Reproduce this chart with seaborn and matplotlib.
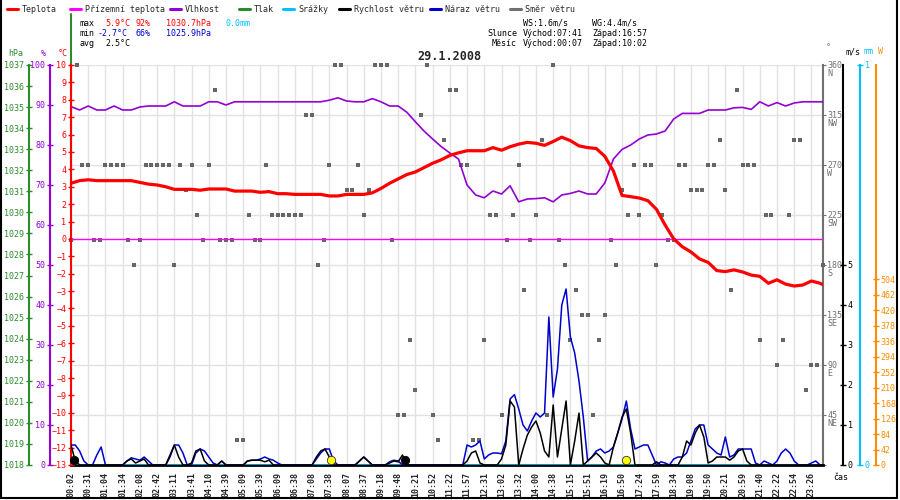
import numpy as np
import matplotlib
matplotlib.use("Agg")
import matplotlib.pyplot as plt
from matplotlib.lines import Line2D
import seaborn as sns

# time axis (labels are evenly spaced, one per sample block)
time_labels = ["00:02", "00:31", "01:04", "01:34", "02:08", "02:42", "03:11", "03:41", "04:10", "04:39",
               "05:09", "05:39", "06:09", "06:38", "07:08", "07:38", "08:07", "08:37", "09:18", "09:48",
               "10:21", "10:52", "11:22", "11:57", "12:31", "13:02", "13:32", "14:00", "14:38", "15:15",
               "15:51", "16:19", "16:50", "17:24", "17:59", "18:34", "19:08", "19:50", "20:21", "20:59",
               "21:40", "22:22", "22:54", "23:26"]

# temperature (°C), two samples per label
temperature = [3.2, 3.35, 3.4, 3.35, 3.35, 3.35, 3.35, 3.35, 3.25, 3.15,
               3.1, 3.0, 2.85, 2.85, 2.85, 2.8, 2.87, 2.87, 2.87, 2.75,
               2.75, 2.75, 2.68, 2.72, 2.6, 2.6, 2.56, 2.56, 2.56, 2.56,
               2.47, 2.47, 2.56, 2.56, 2.56, 2.65, 2.9, 3.2, 3.45, 3.7,
               3.85, 4.1, 4.35, 4.55, 4.8, 4.95, 5.07, 5.07, 5.07, 5.25,
               5.1, 5.3, 5.45, 5.55, 5.5, 5.38, 5.6, 5.85, 5.65, 5.35,
               5.25, 5.2, 4.75, 3.9, 2.5, 2.43, 2.35, 2.2, 1.7, 0.8,
               0.0, -0.45, -0.75, -1.15, -1.35, -1.82, -1.88, -1.78, -1.9, -2.08,
               -2.15, -2.55, -2.35, -2.6, -2.71, -2.65, -2.42, -2.55, -2.8]

# relative humidity (%), two samples per label
humidity = [89.6, 88.75, 89.75, 88.75, 88.75, 89.75, 88.75, 88.75, 89.5, 89.75,
            89.75, 89.75, 90.8, 89.75, 89.75, 89.75, 90.8, 90.8, 90.0, 90.8,
            90.8, 90.8, 90.8, 90.8, 90.8, 90.8, 90.8, 90.8, 90.8, 90.8,
            91.2, 91.8, 91.0, 90.8, 90.8, 91.6, 90.8, 89.75, 89.75, 88.2,
            85.8, 83.5, 81.5, 79.6, 78.0, 76.5, 70.0, 67.5, 66.8, 68.5,
            67.75, 69.8, 65.8, 66.5, 66.6, 66.8, 65.8, 67.5, 67.9, 68.5,
            67.75, 67.75, 70.5, 76.5, 78.9, 80.0, 81.5, 82.5, 82.75, 83.5,
            86.5, 87.9, 87.9, 87.9, 88.75, 88.75, 88.75, 89.3, 89.4, 88.9,
            90.8, 89.75, 90.6, 89.75, 90.5, 90.8, 90.8, 90.8, 90.8]

# wind gust and wind speed (m/s), four samples per label
wind_gust = [0.5, 0.5, 0.35, 0.1,  0, 0, 0.25, 0.45,  0, 0, 0, 0,  0, 0.1, 0.18, 0.15,
             0.12, 0.2, 0.1, 0,  0, 0, 0, 0.2,  0.5, 0.5, 0.3, 0,  0, 0.3, 0.4, 0.35,
             0.2, 0.05, 0, 0.1,  0, 0, 0, 0,  0, 0.1, 0.12, 0.12,  0.15, 0.2, 0.15, 0.12,
             0.05, 0, 0, 0,  0, 0, 0, 0,  0, 0.15, 0.3, 0.4,  0.4, 0.1, 0, 0,
             0, 0, 0, 0.1,  0.2, 0.1, 0, 0,  0, 0, 0.08, 0.12,  0.1, 0, 0, 0,
             0, 0, 0, 0,  0, 0, 0, 0,  0, 0, 0, 0,  0.5, 0.45, 0.5, 0.6,
             0.15, 0.25, 0.3, 0.3,  0.28, 0.6, 1.65, 1.76,  1.4, 1.0, 0.85, 1.1,  1.3, 1.2, 1.3, 3.7,
             1.7, 2.4, 4.0, 4.4,  3.2, 2.8, 2.1, 1.2,  0.1, 0.2, 0.35, 0.4,  0.3, 0.35, 0.45, 0.8,
             1.15, 1.6, 0.9, 0.4,  0.45, 0.5, 0.5, 0.25,  0, 0.08, 0.05, 0,  0.15, 0.2, 0.2, 0.3,
             0.6, 0.9, 1.0, 1.0,  0.5, 0.4, 0.3, 0.25,  0.7, 0.2, 0.25, 0.4,  0.4, 0.4, 0.4, 0.05,
             0, 0.1, 0.05, 0,  0.1, 0.3, 0.4, 0.3,  0.1, 0, 0, 0,  0.05, 0.1, 0, 0]

wind_speed = [0.5, 0.1, 0, 0,  0, 0, 0, 0,  0, 0, 0, 0,  0, 0.1, 0.15, 0.05,
              0.1, 0.15, 0, 0,  0, 0, 0, 0.25,  0.5, 0.2, 0, 0,  0.05, 0.35, 0.4, 0.1,
              0, 0, 0, 0.1,  0, 0, 0, 0,  0, 0.1, 0.12, 0.12,  0.12, 0.08, 0.12, 0,
              0, 0, 0, 0,  0, 0, 0, 0,  0, 0.2, 0.35, 0.4,  0.2, 0, 0, 0,
              0, 0, 0, 0.1,  0.2, 0.1, 0, 0,  0, 0, 0.05, 0.1,  0.08, 0.25, 0, 0,
              0, 0, 0, 0,  0, 0, 0, 0,  0, 0, 0, 0,  0.1, 0.3, 0.35, 0.05,
              0, 0, 0, 0,  0.15, 0.5, 1.6, 1.45,  0, 0.4, 0.75, 0.95,  1.1, 0.8, 0.35, 0.2,
              1.5, 0.2, 0.9, 1.6,  0, 0.6, 1.3, 0,  0.1, 0.2, 0.3, 0.2,  0.05, 0, 0.45, 0.8,
              1.2, 1.4, 0.8, 0,  0, 0, 0, 0,  0.08, 0, 0, 0,  0, 0, 0.2, 0.6,
              0.5, 0.8, 1.0, 0.7,  0.05, 0.1, 0.2, 0.2,  0.2, 0.12, 0.2, 0.35,  0.4, 0.1, 0, 0,
              0, 0, 0, 0,  0, 0, 0, 0,  0, 0, 0, 0,  0, 0, 0, 0]

# wind direction (deg), three samples per label
wind_dir = [202.5, 360, 270,  270, 202.5, 202.5,  270, 270, 270,  270, 202.5, 180,
            202.5, 270, 270,  270, 270, 270,  180, 270, 247.5,  270, 225, 202.5,
            270, 337.5, 202.5,  202.5, 202.5, 22.5,  22.5, 225, 202.5,  202.5, 270, 225,
            225, 225, 225,  225, 225, 315,  315, 180, 202.5,  270, 360, 360,
            247.5, 247.5, 270,  225, 247.5, 360,  360, 360, 202.5,  45, 45, 112.5,
            67.5, 315, 360,  45, 22.5, 292.5,  337.5, 337.5, 270,  270, 22.5, 22.5,
            112.5, 225, 225,  45, 202.5, 225,  270, 157.5, 202.5,  225, 292.5, 45,
            360, 202.5, 180,  112.5, 157.5, 135,  135, 45, 112.5,  135, 202.5, 180,
            247.5, 225, 270,  225, 270, 270,  180, 225, 202.5,  202.5, 270, 270,
            247.5, 247.5, 247.5,  270, 270, 292.5,  247.5, 157.5, 337.5,  270, 270, 270,
            112.5, 225, 225,  90, 112.5, 225,  292.5, 292.5, 67.5,  90, 90, 180]

ground_temp = 0.0          # Přízemní teplota (flat)
precip_total = 0.0         # Srážky
pressure_start = [1039.4, 1030.2]

events = ["00:07", "07:41", "10:02", "16:57"]      # moon rise, sun rise, moon set, sun set
event_colors = ["black", "yellow", "black", "yellow"]

legend_names = ["Teplota", "Přízemní teplota", "Vlhkost", "Tlak", "Srážky",
                "Rychlost větru", "Náraz větru", "Směr větru"]
compass = ["NE", "E", "SE", "S", "SW", "W", "NW", "N"]

RED, MAG, PUR, GRN = "#ff0000", "#ff00ff", "#9400d3", "#2a8c2a"
CYA, BLU, GRY, ORA = "#00bfff", "#0000cc", "#707070", "#ff8c00"
legend_colors = [RED, MAG, PUR, GRN, CYA, "black", BLU, GRY]

sns.set_style("white")
plt.rcParams['font.family'] = ['DejaVu Sans Mono']
plt.rcParams['font.size'] = 6

W, H = 900, 500
def fx(x): return x / W
def fy(y): return 1 - y / H

PL, PR, PT, PB = 71, 823, 65, 465
fig = plt.figure(figsize=(9, 5), dpi=100)
ax = fig.add_axes([fx(PL), fy(PB), (PR - PL) / W, (PB - PT) / H])

t_half = np.arange(len(temperature)) * 0.5
t_quarter = np.arange(len(wind_gust)) * 0.25
t_third = np.arange(len(wind_dir)) / 3.0
tick_pos = np.arange(len(time_labels))
XMAX = 43.67


def to_min(s):
    h, m = s.split(":")
    return int(h) * 60 + int(m)


def twin(color, lim, ticks, side, pos, labels=None):
    t = ax.twinx()
    t.set_ylim(lim)
    for s in t.spines.values():
        s.set_visible(False)
    sp = t.spines[side]
    sp.set_visible(True)
    sp.set_color(color)
    sp.set_linewidth(1.5)
    sp.set_position(('axes', pos))
    if side == 'left':
        t.yaxis.set_ticks_position('left')
        t.yaxis.set_label_position('left')
    else:
        t.yaxis.set_ticks_position('right')
    t.set_yticks(ticks)
    if labels is not None:
        t.set_yticklabels(labels)
    t.tick_params(axis='y', colors=color, direction='inout', length=5, width=1, pad=1, labelsize=6)
    t.set_xlim(0, XMAX)
    return t


# base axis: wind direction + grid
ax.set_xlim(0, XMAX)
ax.set_ylim(0, 360)
ax.set_facecolor("white")
sns.scatterplot(x=t_third, y=wind_dir, ax=ax, marker='s', s=10, color="#666666", linewidth=0, zorder=3)
ax.collections[-1].set_clip_on(False)

hpa = twin(GRN, (1018, 1037), range(1018, 1038), 'left', -42 / (PR - PL))
hum = twin(PUR, (0, 100), range(0, 101, 10), 'left', -21 / (PR - PL))
tmp = twin(RED, (-13, 10), range(-13, 11), 'left', 0.0)
mm = twin(CYA, (0, 1), [0, 1], 'right', (860 - PL) / (PR - PL))
wnd = twin("black", (0, 10), range(0, 6), 'right', (843 - PL) / (PR - PL))
sol = twin(ORA, (0, 1084), range(0, 505, 42), 'right', (876 - PL) / (PR - PL))

ax.set_xticks(tick_pos)
ax.set_xticklabels(time_labels, rotation=90, fontweight='bold', fontsize=6)
ax.tick_params(axis='x', length=0, pad=5)
ax.set_yticks(range(0, 361, 45))
ax.set_yticklabels([""] + [str(d) for d in range(45, 361, 45)])
ax.yaxis.set_ticks_position('right')
ax.tick_params(axis='y', colors=GRY, direction='out', length=2, pad=1, labelsize=6)
ax.grid(True, color="#e2e2e2", lw=1)
for s in ['left', 'top']:
    ax.spines[s].set_visible(False)
ax.spines['right'].set_color(GRY)
ax.spines['right'].set_linewidth(1.5)
ax.spines['bottom'].set_color("black")
ax.spines['bottom'].set_linewidth(2)
for deg, name in zip(range(45, 361, 45), compass):
    ax.annotate(name, xy=(1, deg), xycoords=ax.get_yaxis_transform(), xytext=(3, -3),
                textcoords='offset points', va='top', ha='left', color=GRY, fontsize=6,
                annotation_clip=False)

# pressure (only the first point is present)
sns.lineplot(x=[0, 0], y=pressure_start, ax=hpa, color=GRN, lw=1.5, estimator=None, sort=False)
hpa.lines[-1].set_clip_on(False)

# humidity
sns.lineplot(x=t_half, y=humidity, ax=hum, color=PUR, lw=1.2)

# temperatures
tmp.axhline(ground_temp, color=MAG, lw=1)
sns.lineplot(x=t_half, y=temperature, ax=tmp, color=RED, lw=2.3)

# precipitation
mm.axhline(precip_total, color=CYA, lw=1.8)

# wind
sns.lineplot(x=t_quarter, y=wind_gust, ax=wnd, color=BLU, lw=1.1)
sns.lineplot(x=t_quarter, y=wind_speed, ax=wnd, color="black", lw=1.1)
tick_min = [to_min(s) for s in time_labels]
ev_x = np.interp([to_min(e) for e in events], tick_min, tick_pos)
for xe, c in zip(ev_x, event_colors):
    wnd.plot(xe, 0.13, marker='o', ms=6, color=c, mec="#333333" if c == "yellow" else "black",
             mew=0.6, clip_on=False, zorder=5)

# header legend
line_x = [7, 70, 170, 239, 283, 339, 430, 510]
for lx, name, c in zip(line_x, legend_names, legend_colors):
    fig.add_artist(Line2D([fx(lx), fx(lx + 11)], [fy(9), fy(9)], transform=fig.transFigure, color=c, lw=2.2))
    fig.text(fx(lx + 15), fy(9), name, va='center', ha='left', fontsize=6)

# summary text
def put(x, y, s, c="black", ha='left'):
    fig.text(fx(x), fy(y), s, va='center', ha=ha, color=c, fontsize=6)

put(80, 23, "max"); put(105, 23, "5.9°C", RED); put(136, 23, "92%", RED)
put(166, 23, "1030.7hPa", RED); put(226, 23, "0.0mm", CYA)
put(80, 33, "min"); put(98, 33, "-2.7°C", BLU); put(136, 33, "66%", BLU)
put(166, 33, "1025.9hPa", BLU)
put(80, 43, "avg"); put(105, 43, "2.5°C")
put(523, 23, "WS:1.6m/s"); put(592, 23, "WG:4.4m/s")
put(517, 33, "Slunce", ha='right'); put(523, 33, "Východ:07:41"); put(592, 33, "Západ:16:57")
put(517, 43, "Měsíc", ha='right'); put(523, 43, "Východ:00:07"); put(592, 43, "Západ:10:02")

fig.text(fx(449), fy(56), "29.1.2008", ha='center', va='center', fontsize=8.5, fontweight='bold')

# axis units
put(16, 53, "hPa", GRN, 'center'); put(43, 53, "%", PUR, 'center'); put(63, 53, "°C", RED, 'center')
put(826, 48, "°", GRY); put(853, 52, "m/s", "black", 'center'); put(868, 52, "mm", CYA, 'center')
put(880, 52, "W", ORA, 'center'); put(841, 478, "čas", "black", 'center')

# outer frame
for xs, ys in [([1, 1], [0, 498]), ([897, 897], [0, 498]), ([1, 897], [498, 498])]:
    fig.add_artist(Line2D([fx(v) for v in xs], [fy(v) for v in ys], transform=fig.transFigure,
                          color="black", lw=1.5))

fig.savefig("out.png", dpi=100)
